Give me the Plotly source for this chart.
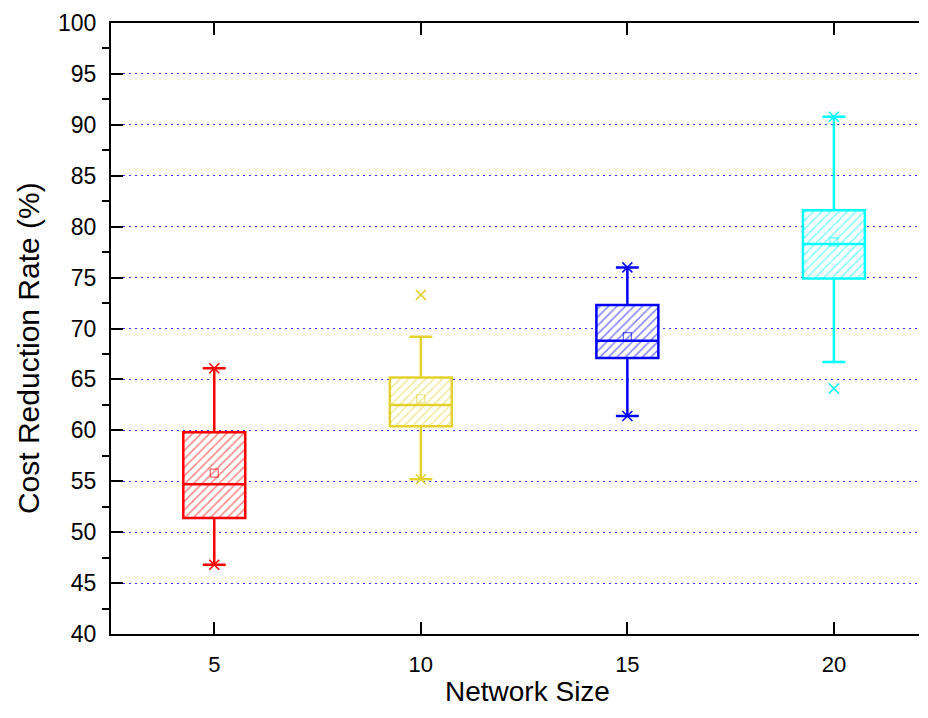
import plotly.graph_objects as go

# ---- data ----
network_sizes = [5, 10, 15, 20]
q1_vals = [51.4, 60.4, 67.1, 74.9]
median_vals = [54.7, 62.5, 68.8, 78.3]
q3_vals = [59.8, 65.2, 72.3, 81.6]
lower_whisker = [46.8, 55.2, 61.4, 66.7]
upper_whisker = [66.1, 69.2, 76.0, 90.8]
mean_vals = [55.8, 63.1, 69.2, 78.5]
max_marks = [66.1, 73.3, 76.0, 90.8]
min_marks = [46.8, 55.2, 61.4, 64.1]
colors = ["#FF0000", "#E3D22E", "#0000FF", "#00FFFF"]
y_ticks = [40, 45, 50, 55, 60, 65, 70, 75, 80, 85, 90, 95, 100]
x_ticks = [5, 10, 15, 20]

FONT = "Liberation Sans, Arial, sans-serif"
BOX_W = 1.5

fig = go.Figure()

# hatched box fill (bars)
for i, xs in enumerate(network_sizes):
    fig.add_trace(go.Bar(
        x=[xs], y=[q3_vals[i] - q1_vals[i]], base=[q1_vals[i]], width=BOX_W,
        marker=dict(color="white", line=dict(width=0),
                    pattern=dict(shape="/", fgcolor=colors[i], bgcolor="white",
                                 size=6, solidity=0.25)),
        showlegend=False, hoverinfo="skip"))

# box outline, median, whiskers
for i, xs in enumerate(network_sizes):
    fig.add_trace(go.Box(
        x=[xs], q1=[q1_vals[i]], median=[median_vals[i]], q3=[q3_vals[i]],
        lowerfence=[lower_whisker[i]], upperfence=[upper_whisker[i]],
        width=BOX_W, whiskerwidth=0.37, fillcolor="rgba(0,0,0,0)",
        line=dict(color=colors[i], width=2.5), boxpoints=False,
        showlegend=False, hoverinfo="skip"))

# mean markers
for i, xs in enumerate(network_sizes):
    fig.add_trace(go.Scatter(
        x=[xs], y=[mean_vals[i]], mode="markers",
        marker=dict(symbol="square-open", size=8, color=colors[i],
                    opacity=0.6, line=dict(width=1.2)),
        showlegend=False, hoverinfo="skip"))

# max / min markers
for i, xs in enumerate(network_sizes):
    fig.add_trace(go.Scatter(
        x=[xs, xs], y=[max_marks[i], min_marks[i]], mode="markers",
        marker=dict(symbol="x-thin-open", size=10, color=colors[i],
                    line=dict(width=1.5, color=colors[i])),
        showlegend=False, hoverinfo="skip"))

fig.update_layout(
    width=912, height=702, autosize=False,
    margin=dict(l=103, r=1, t=15, b=76, pad=0),
    paper_bgcolor="white", plot_bgcolor="white",
    barmode="overlay", boxmode="overlay",
    font=dict(family=FONT, size=22, color="black"),
    xaxis=dict(range=[2.5, 22.06], tickvals=x_ticks, ticktext=[str(v) for v in x_ticks],
               ticks="inside", ticklen=12, tickwidth=2, tickcolor="black",
               showline=True, linewidth=2, linecolor="black", mirror="ticks",
               showgrid=False, zeroline=False, ticklabelstandoff=10,
               tickfont=dict(family=FONT, size=22)),
    yaxis=dict(range=[40, 100], tickvals=y_ticks, ticktext=[str(v) for v in y_ticks],
               ticks="inside", ticklen=12, tickwidth=2, tickcolor="black",
               showline=True, linewidth=2, linecolor="black", mirror=False,
               showgrid=True, gridcolor="#3333FF", gridwidth=1, griddash="2px,4px",
               zeroline=False, ticklabelstandoff=8,
               minor=dict(ticks="outside", ticklen=7, tickwidth=2, tickcolor="black",
                          tickvals=[42.5, 47.5, 52.5, 57.5, 62.5, 67.5, 72.5, 77.5,
                                    82.5, 87.5, 92.5, 97.5], showgrid=False),
               tickfont=dict(family=FONT, size=23)),
    annotations=[
        dict(text="Network Size", xref="paper", yref="paper", x=0.516, y=-0.0933,
             xanchor="center", yanchor="middle", showarrow=False,
             font=dict(family=FONT, size=28, color="black")),
        dict(text="Cost Reduction Rate (%)", xref="paper", yref="paper", x=-0.1027, y=0.468,
             xanchor="center", yanchor="middle", showarrow=False, textangle=-90,
             font=dict(family=FONT, size=30, color="black")),
    ],
)

fig.write_html("out.html")
